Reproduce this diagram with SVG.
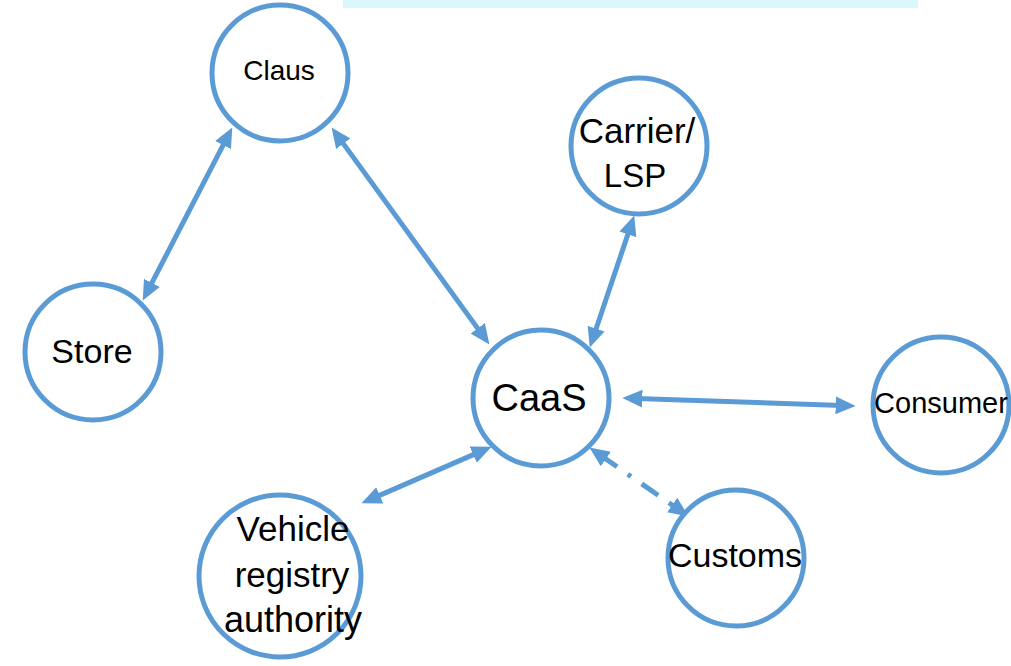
<svg xmlns="http://www.w3.org/2000/svg" width="1011" height="666" viewBox="0 0 1011 666">
<style>
.node circle{fill:#fff;stroke:#5b9bd5;stroke-width:5}
.node text{font-family:"Liberation Sans",Arial,sans-serif;fill:#000;text-anchor:middle}
.conn line{stroke:#5b9bd5;stroke-width:5;fill:none;marker-start:url(#ah);marker-end:url(#ah)}
.dash{stroke-dasharray:27 13 4 13 20 13 40}
</style>
<defs>
<marker id="ah" markerUnits="userSpaceOnUse" markerWidth="20" markerHeight="18" viewBox="0 0 18 16" refX="12" refY="8" orient="auto-start-reverse">
<path d="M0,0 L18,8 L0,16 Z" fill="#5b9bd5"/>
</marker>
</defs>
<rect x="343" y="0" width="575" height="8" fill="#daf7fd"/>
<g class="conn">
<line x1="229.2" y1="133.3" x2="145.8" y2="294.7"/>
<line x1="335.5" y1="132.9" x2="485.5" y2="339.1"/>
<line x1="632.1" y1="221.7" x2="591.9" y2="341.3"/>
<line x1="629" y1="398.2" x2="849" y2="405.8"/>
<line x1="485.5" y1="449.4" x2="367.5" y2="500.6"/>
<line class="dash" x1="594.9" y1="451.4" x2="683.1" y2="512.6"/>
</g>
<g id="claus" class="node"><circle cx="280" cy="73" r="68"/><text x="279" y="80" font-size="28">Claus</text></g>
<g id="carrier" class="node"><circle cx="639" cy="146" r="68"/><text x="637" y="143" font-size="35">Carrier/</text><text x="635" y="187" font-size="33">LSP</text></g>
<g id="store" class="node"><circle cx="93" cy="352" r="68"/><text x="92" y="363" font-size="34">Store</text></g>
<g id="caas" class="node"><circle cx="541" cy="398" r="68"/><text x="539" y="411" font-size="38">CaaS</text></g>
<g id="consumer" class="node"><circle cx="941" cy="405" r="68"/><text x="941" y="413" font-size="29">Consumer</text></g>
<g id="customs" class="node"><circle cx="736" cy="558" r="68"/><text x="735" y="567" font-size="34">Customs</text></g>
<g id="vehicle" class="node"><circle cx="280" cy="576" r="81"/><text x="293" y="541" font-size="35">Vehicle</text><text x="292" y="587" font-size="35">registry</text><text x="293" y="632" font-size="36">authority</text></g>
</svg>
